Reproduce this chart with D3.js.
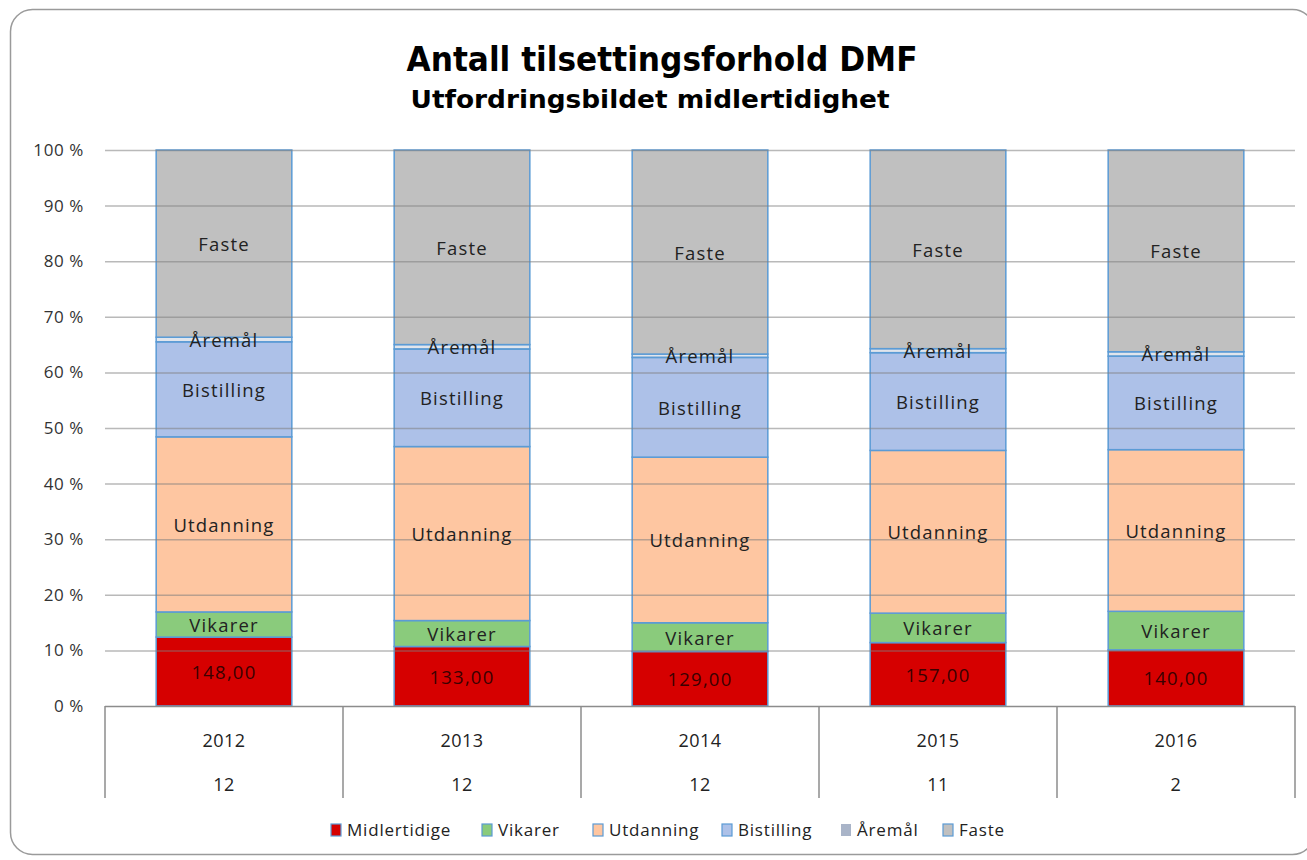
<!DOCTYPE html>
<html>
<head>
<meta charset="utf-8">
<script src="https://cdn.jsdelivr.net/npm/d3@7"></script>
<style>
  html, body { margin: 0; padding: 0; background: #fff; }
  svg { display: block; }
  .lbl { font-family: "Open Sans", "Noto Sans", sans-serif; }
</style>
</head>
<body>
<svg id="chart" width="1307" height="860"></svg>
<script>
'use strict';

// data (100 % stacked, counts estimated from Midlertidige share)
var years = ['2012', '2013', '2014', '2015', '2016'];
var subLabels = ['12', '12', '12', '11', '2'];
var seriesNames = ['Midlertidige', 'Vikarer', 'Utdanning', 'Bistilling', 'Åremål', 'Faste'];
var midlertidige = [148, 133, 129, 157, 140];
var vikarer = [54, 58, 68, 73, 96];
var utdanning = [376, 389, 392, 403, 403];
var bistilling = [204, 218, 236, 242, 233];
var aremal = [10, 10, 8, 10, 11];
var faste = [402, 435, 483, 492, 503];
var yTicks = [0, 0.1, 0.2, 0.3, 0.4, 0.5, 0.6, 0.7, 0.8, 0.9, 1];

var colors = {
  'Midlertidige': '#d60000',
  'Vikarer': '#8acb7c',
  'Utdanning': '#fec6a1',
  'Bistilling': '#adc1e8',
  'Åremål': '#a9b4c8',
  'Faste': '#c0c0c0'
};
var stroke = '#5b9bd5';
var font = '"Open Sans", "Noto Sans", sans-serif';

var cols = [midlertidige, vikarer, utdanning, bistilling, aremal, faste];
var rows = years.map(function (y, i) {
  var r = { year: y };
  seriesNames.forEach(function (s, j) { r[s] = cols[j][i]; });
  return r;
});

var stacked = d3.stack()
  .keys(seriesNames)
  .offset(d3.stackOffsetExpand)(rows);

var svg = d3.select('#chart');

// outer frame
svg.append('rect')
  .attr('x', 10.5).attr('y', 9.5)
  .attr('width', 1304).attr('height', 845)
  .attr('rx', 22).attr('ry', 22)
  .attr('fill', '#fff')
  .attr('stroke', '#9a9a9a')
  .attr('stroke-width', 1.5);

// title
svg.append('text')
  .attr('x', 662).attr('y', 71)
  .attr('text-anchor', 'middle')
  .attr('font-family', '"Liberation Sans Narrow", "DejaVu Sans Condensed", "Open Sans", sans-serif')
  .attr('font-weight', 'bold')
  .attr('font-size', 33)
  .attr('textLength', 511)
  .attr('lengthAdjust', 'spacingAndGlyphs')
  .attr('fill', '#000')
  .text('Antall tilsettingsforhold DMF');

svg.append('text')
  .attr('x', 650).attr('y', 108)
  .attr('text-anchor', 'middle')
  .attr('font-family', '"Liberation Sans Narrow", "DejaVu Sans Condensed", "Open Sans", sans-serif')
  .attr('font-weight', 'bold')
  .attr('font-size', 25)
  .attr('textLength', 479)
  .attr('lengthAdjust', 'spacingAndGlyphs')
  .attr('fill', '#000')
  .text('Utfordringsbildet midlertidighet');

var x = d3.scaleBand()
  .domain(years)
  .range([105, 1295])
  .paddingInner(0.43)
  .paddingOuter(0.215);

var y = d3.scaleLinear()
  .domain([0, 1])
  .range([706, 150]);

// y axis labels
var yAxis = d3.axisLeft(y)
  .tickValues(yTicks)
  .tickSize(0)
  .tickPadding(21)
  .tickFormat(function (d) { return Math.round(d * 100) + ' %'; });

var gy = svg.append('g')
  .attr('transform', 'translate(105,0)')
  .call(yAxis);
gy.select('.domain').remove();
gy.selectAll('text')
  .attr('font-family', font)
  .attr('font-size', 17)
  .attr('letter-spacing', 0.6)
  .attr('fill', '#333');

// bars
var layer = svg.append('g').selectAll('g')
  .data(stacked)
  .join('g')
  .attr('fill', function (d) { return colors[d.key]; });

layer.selectAll('rect')
  .data(function (d) { return d.map(function (v) { v.key = d.key; return v; }); })
  .join('rect')
  .attr('x', function (d) { return x(d.data.year); })
  .attr('width', x.bandwidth())
  .attr('y', function (d) { return y(d[1]); })
  .attr('height', function (d) { return y(d[0]) - y(d[1]); })
  .attr('fill-opacity', function (d) { return d.key === 'Åremål' ? 0.35 : 1; })
  .attr('stroke', stroke)
  .attr('stroke-width', 1.5);

// gridlines (drawn over the bars, as in the original)
svg.append('g').selectAll('line')
  .data(yTicks.filter(function (t) { return t > 0; }))
  .join('line')
  .attr('x1', 105).attr('x2', 1295)
  .attr('y1', function (d) { return y(d) + 0.5; })
  .attr('y2', function (d) { return y(d) + 0.5; })
  .attr('stroke', '#7f7f7f')
  .attr('stroke-opacity', 0.55)
  .attr('stroke-width', 1.5);

// segment labels
var labels = svg.append('g').attr('class', 'lbl');
stacked.forEach(function (s, si) {
  labels.selectAll(null)
    .data(s)
    .join('text')
    .attr('x', function (d) { return x(d.data.year) + x.bandwidth() / 2; })
    .attr('y', function (d) { return (y(d[0]) + y(d[1])) / 2 + 1; })
    .attr('dy', '0.35em')
    .attr('text-anchor', 'middle')
    .attr('font-size', 18.5)
    .attr('letter-spacing', 1.2)
    .attr('fill', si === 0 ? '#3a0000' : '#222')
    .text(function (d, i) {
      return si === 0 ? midlertidige[i].toFixed(2).replace('.', ',') : s.key;
    });
});

// category table under the plot
var table = svg.append('g');
table.append('line')
  .attr('x1', 105).attr('x2', 1295)
  .attr('y1', 706.5).attr('y2', 706.5)
  .attr('stroke', '#8c8c8c').attr('stroke-width', 1.5);

var step = x.step();
table.selectAll('line.sep')
  .data(d3.range(years.length + 1))
  .join('line')
  .attr('class', 'sep')
  .attr('x1', function (i) { return 105 + i * step; })
  .attr('x2', function (i) { return 105 + i * step; })
  .attr('y1', 706).attr('y2', 798)
  .attr('stroke', '#8c8c8c').attr('stroke-width', 1.5);

table.selectAll('text.yr')
  .data(years)
  .join('text')
  .attr('class', 'yr')
  .attr('x', function (d) { return x(d) + x.bandwidth() / 2; })
  .attr('y', 741)
  .attr('dy', '0.35em')
  .attr('text-anchor', 'middle')
  .attr('font-family', font)
  .attr('font-size', 18)
  .attr('letter-spacing', 0.5)
  .attr('fill', '#222')
  .text(function (d) { return d; });

table.selectAll('text.sub')
  .data(subLabels)
  .join('text')
  .attr('class', 'sub')
  .attr('x', function (d, i) { return x(years[i]) + x.bandwidth() / 2; })
  .attr('y', 785)
  .attr('dy', '0.35em')
  .attr('text-anchor', 'middle')
  .attr('font-family', font)
  .attr('font-size', 18)
  .attr('letter-spacing', 0.5)
  .attr('fill', '#222')
  .text(function (d) { return d; });

// legend
var legendX = [331, 482, 593, 722, 841, 943];
var legend = svg.append('g').selectAll('g')
  .data(seriesNames)
  .join('g')
  .attr('transform', function (d, i) { return 'translate(' + legendX[i] + ',830)'; });

legend.append('rect')
  .attr('x', 0).attr('y', -6)
  .attr('width', 10).attr('height', 12)
  .attr('fill', function (d) { return colors[d]; })
  .attr('stroke', function (d) { return d === 'Åremål' ? 'none' : stroke; })
  .attr('stroke-width', 1.2);

legend.append('text')
  .attr('x', 16).attr('y', 0)
  .attr('dy', '0.35em')
  .attr('font-family', font)
  .attr('font-size', 17)
  .attr('letter-spacing', 0.8)
  .attr('fill', '#222')
  .text(function (d) { return d; });
</script>
</body>
</html>
